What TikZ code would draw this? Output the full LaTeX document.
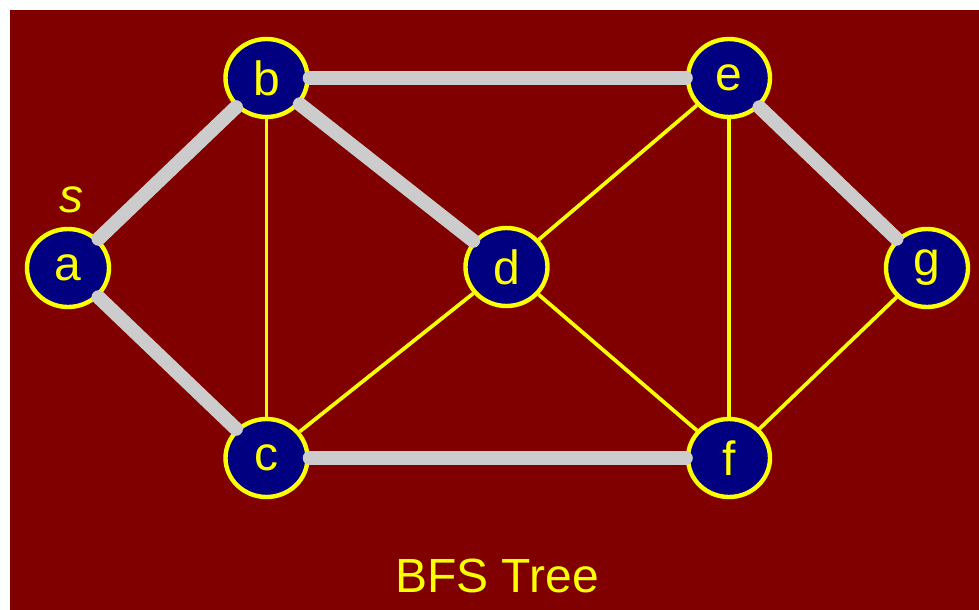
\documentclass[tikz,border=0pt]{standalone}
\usepackage{fontspec}
\setmainfont{Liberation Sans}
\usetikzlibrary{shapes.geometric}
\pgfdeclarelayer{bg}
\pgfdeclarelayer{edges}
\pgfsetlayers{bg,edges,main}
\definecolor{maroonbg}{HTML}{800000}
\definecolor{nodeblue}{HTML}{000080}
\definecolor{treegray}{HTML}{CCCCCC}
\definecolor{yel}{HTML}{FFFF00}
\begin{document}
\begin{tikzpicture}[x=0.75pt,y=-0.75pt,
 vertex/.style={ellipse,draw=yel,fill=nodeblue,line width=3.3pt,minimum width=61.5pt,minimum height=58.5pt,inner sep=0pt,text=yel,font=\fontsize{36}{36}\selectfont},
 graphedge/.style={draw=yel,line width=2.8pt},
 treeedge/.style={draw=treegray,line width=10.5pt,line cap=round},
 lbl/.style={text=yel,font=\fontsize{36}{36}\selectfont,inner sep=0pt}]
\useasboundingbox (0,0) rectangle (979,610);
\begin{pgfonlayer}{bg}
\fill[maroonbg] (10,10) rectangle (979,610);
\end{pgfonlayer}
\node[vertex] (a) at (68,268) {a};
\node[vertex] (b) at (266.5,78) {b};
\node[vertex] (c) at (266.5,458) {c};
\node[vertex] (d) at (506.5,267) {d};
\node[vertex] (e) at (729,78) {e};
\node[vertex] (f) at (729,458) {f};
\node[vertex] (g) at (927,268) {g};
\begin{pgfonlayer}{edges}
\draw[graphedge] (b) -- (c);
\draw[graphedge] (c) -- (d);
\draw[graphedge] (d) -- (e);
\draw[graphedge] (d) -- (f);
\draw[graphedge] (e) -- (f);
\draw[graphedge] (f) -- (g);
\end{pgfonlayer}
\draw[treeedge] (a) -- (b);
\draw[treeedge] (a) -- (c);
\draw[treeedge] (b) -- (e);
\draw[treeedge] (b) -- (d);
\draw[treeedge] (c) -- (f);
\draw[treeedge] (e) -- (g);
\node[lbl,anchor=base] (slabel) at (71,212) {\itshape s};
\node[lbl,anchor=base] (title) at (497,592) {BFS Tree};
\end{tikzpicture}
\end{document}
